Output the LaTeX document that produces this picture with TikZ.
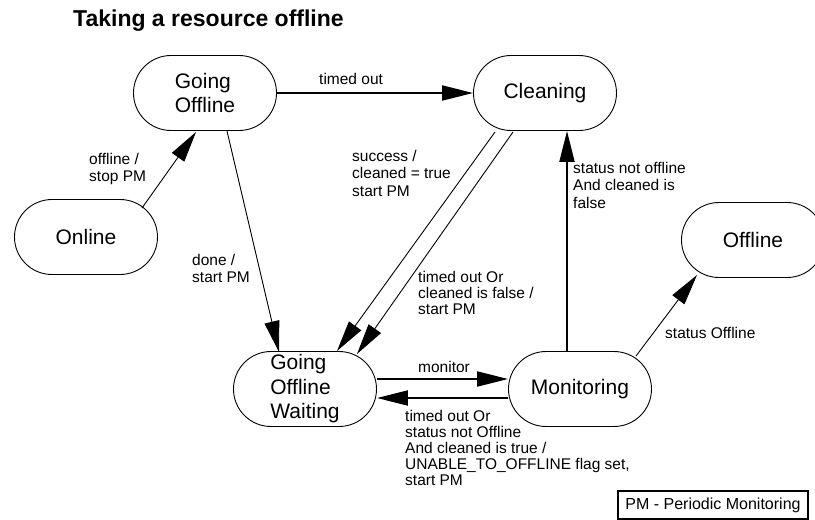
\documentclass[tikz,border=0pt]{standalone}
\usepackage{fontspec}
\setmainfont{Liberation Sans}
\usetikzlibrary{arrows.meta,shapes.misc}

\begin{document}
\begin{tikzpicture}[x=1pt, y=-1pt, state/.style={rounded rectangle, draw, line width=0.9pt, minimum width=143pt, minimum height=75pt, inner sep=0pt, align=left, font=\fontsize{21}{24.5}\selectfont}, lbl/.style={anchor=north west, inner sep=0pt, align=left, font=\fontsize{15.5}{17.5}\selectfont}, tight/.style={font=\fontsize{15.5}{16}\selectfont}, tip/.style={-{Triangle[length=31pt,width=15pt]}}, slim/.style={line width=0.9pt}, heavy/.style={line width=2pt}]
\useasboundingbox (0,0) rectangle (815,520);
\node[anchor=base west, inner sep=0pt, font=\bfseries\fontsize{23}{26}\selectfont] (title) at (73,26) {Taking a resource offline};
\node[state] (online) at (86,237) {Online};
\node[state] (going) at (205,93) {Going\\Offline};
\node[state] (clean) at (545,93) {Cleaning};
\node[state] (off) at (753,240) {Offline};
\node[state] (wait) at (305,389) {Going\\Offline\\Waiting};
\node[state] (mon) at (580,389) {Monitoring};
\node[draw, line width=1.5pt, minimum width=190pt, minimum height=28pt, inner sep=0pt, font=\fontsize{16}{18}\selectfont] (legend) at (713,505) {PM - Periodic Monitoring};
% transition labels
\node[lbl] (l1) at (89,153) {offline /\\stop PM};
\node[lbl] (l2) at (192,254) {done /\\start PM};
\node[lbl] (l3) at (319,73) {timed out};
\node[lbl] (l4) at (352,150) {success /\\cleaned = true\\start PM};
\node[lbl, tight] (l5) at (418,271) {timed out Or\\cleaned is false /\\start PM};
\node[lbl] (l6) at (573,162) {status not offline\\And cleaned is\\false};
\node[lbl] (l7) at (665,327) {status Offline};
\node[lbl] (l8) at (418,361) {monitor};
\node[lbl, tight] (l9) at (405,410) {timed out Or\\status not Offline\\And cleaned is true /\\UNABLE\_TO\_OFFLINE flag set,\\start PM};
\path[slim, tip]
([shift={(56,-29)}]online.center) edge ([shift={(-9,39)}]going.center)
([shift={(22,38)}]going.center) edge ([shift={(-26,-37)}]wait.center)
([shift={(-50,39)}]clean.center) edge ([shift={(32,-38)}]wait.center)
([shift={(-32,39)}]clean.center) edge ([shift={(52,-35)}]wait.center)
([shift={(56,-33)}]mon.center) edge ([shift={(-56,35)}]off.center);
\path[heavy, tip]
(going.east) edge (clean.west)
([xshift=-13pt]mon.north) edge ([xshift=22pt]clean.south)
([yshift=10pt]wait.east) edge ([yshift=10pt]mon.west)
([yshift=-9pt]mon.west) edge ([yshift=-9pt]wait.east);
\end{tikzpicture}
\end{document}
